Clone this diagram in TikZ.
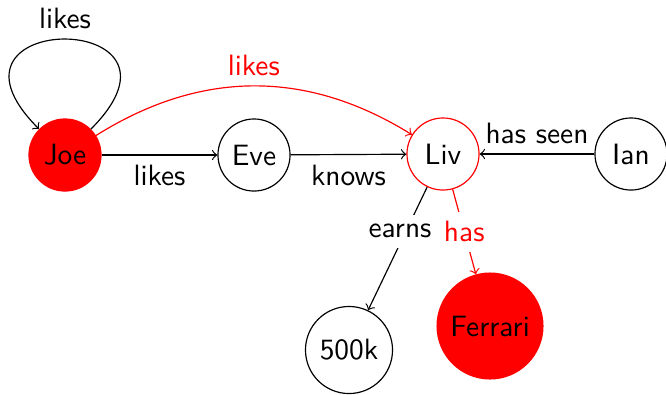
\documentclass[tikz,border=0pt]{standalone}
\begin{document}
\begin{tikzpicture}[x=0.34pt,y=-0.34pt,font=\sffamily,
  vtx/.style={circle,draw,inner sep=1pt,minimum size=24.5pt},
  redfill/.style={fill=red,draw=red},
  lbl/.style={fill=white}]
\useasboundingbox (0,0) rectangle (666,394);
\node[vtx,redfill] (joe) at (65,155) {Joe};
\node[vtx] (eve) at (254,155) {Eve};
\node[vtx,draw=red] (liv) at (443,154) {Liv};
\node[vtx] (ian) at (631,154) {Ian};
\node[vtx,minimum size=29.6pt] (k500) at (349,350) {500k};
\node[vtx,redfill,minimum size=36pt] (ferrari) at (490,326) {Ferrari};
\draw[->] (joe) to[out=45,in=135,looseness=8.4] node[above] {likes} (joe);
\draw[->] (joe) -- node[below] {likes} (eve);
\draw[->] (eve) -- node[below] {knows} (liv);
\draw[->] (ian) -- node[above] {has seen} (liv);
\draw[->,red] (joe) to[bend left=32] node[above] {likes} (liv);
\draw[->] (liv) -- node[lbl,pos=0.36,xshift=-2pt] {earns} (k500);
\draw[->,red] (liv) -- node[lbl,pos=0.5] {has} (ferrari);
\end{tikzpicture}
\end{document}
